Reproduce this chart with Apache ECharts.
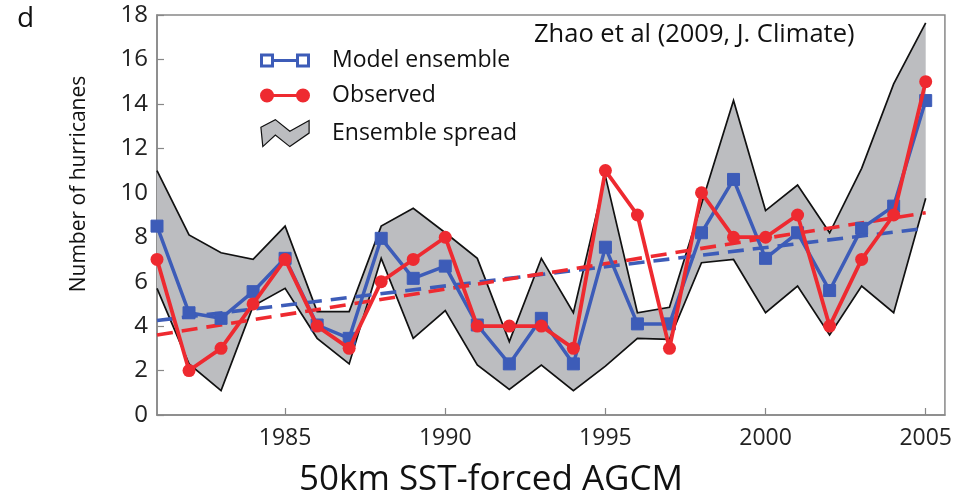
<!DOCTYPE html>
<html>
<head>
<meta charset="utf-8">
<script src="https://cdn.jsdelivr.net/npm/echarts@6/dist/echarts.min.js"></script>
<style>
html,body{margin:0;padding:0;background:#fff;}
#chart{width:955px;height:497px;}
</style>
</head>
<body>
<div id="chart"></div>
<script>
// ---- data ----
var years = [1981,1982,1983,1984,1985,1986,1987,1988,1989,1990,1991,1992,1993,1994,1995,1996,1997,1998,1999,2000,2001,2002,2003,2004,2005];
var modelEnsemble = [8.5,4.6,4.35,5.55,7.05,4.05,3.45,7.95,6.15,6.7,4.05,2.3,4.35,2.3,7.55,4.1,4.1,8.2,10.6,7.05,8.2,5.6,8.4,9.4,14.15];
var observed = [7,2,3,5,7,4,3,6,7,8,4,4,4,3,11,9,3,10,8,8,9,4,7,9,15];
var spreadUpper = [11,8.1,7.3,7.0,8.5,4.65,4.65,8.5,9.3,8.2,7.05,3.3,7.05,4.6,10.75,4.6,4.85,9.5,14.15,9.2,10.35,8.2,11.1,14.9,17.65];
var spreadLower = [5.7,2.3,1.1,4.9,5.7,3.45,2.3,7.05,3.45,4.7,2.25,1.15,2.25,1.1,2.2,3.45,3.4,6.85,7.0,4.6,5.8,3.6,5.8,4.6,9.75];
var trendYears = [1981, 2005];
var trendModel = [4.25, 8.4];
var trendObserved = [3.6, 9.1];
var xTickYears = [1985, 1990, 1995, 2000, 2005];

function pairs(xs, ys){ return xs.map(function(x,i){ return [x, ys[i]]; }); }
var spreadData = years.map(function(y,i){ return [y, spreadLower[i], spreadUpper[i]]; });

var BLUE = '#3d5cb8', RED = '#ee2a30', GRAY = '#bcbdc0';
var FONT = 'Open Sans';

var iconModel = 'path://M0 0H14V14H0Z M3 3V11H11V3Z M14 5.5H36V8.5H14Z M36 0H50V14H36Z M39 3V11H47V3Z';
var iconObs = 'path://M0 7A7 7 0 1 1 14 7A7 7 0 1 1 0 7Z M12 5.5H38V8.5H12Z M36 7A7 7 0 1 1 50 7A7 7 0 1 1 36 7Z';
var iconSpread = 'path://M0 9L15 1L30 13L50 2L50 15L30 29L15 17L2 29Z';

function renderBand(params, api){
  if (params.dataIndex !== 0) return;
  var top = [], bottom = [];
  for (var i = 0; i < spreadData.length; i++){
    top.push(api.coord([spreadData[i][0], spreadData[i][2]]));
    bottom.push(api.coord([spreadData[i][0], spreadData[i][1]]));
  }
  var poly = top.concat(bottom.slice().reverse());
  return {
    type:'group',
    children:[
      {type:'polygon', shape:{points:poly}, style:{fill:GRAY, stroke:'none'}},
      {type:'polyline', shape:{points:top}, style:{fill:'none', stroke:'#111', lineWidth:1.7}},
      {type:'polyline', shape:{points:bottom}, style:{fill:'none', stroke:'#111', lineWidth:1.7}}
    ]
  };
}

var chart = echarts.init(document.getElementById('chart'), null, {renderer:'canvas'});
chart.setOption({
  animation: false,
  backgroundColor: '#fff',
  title: [
    {text: 'd', left: 12, top: 0, textStyle:{fontFamily:FONT, fontSize:28, fontWeight:'normal', color:'#111'}},
    {text: 'Zhao et al (2009, J. Climate)', left: 529, top: 17, textStyle:{fontFamily:FONT, fontSize:25.5, fontWeight:'normal', color:'#111'}},
    {text: '50km SST-forced AGCM', left: 294, top: 458, textStyle:{fontFamily:FONT, fontSize:35, fontWeight:'normal', color:'#111'}}
  ],
  graphic: [
    {type:'text', x: 79, y: 184, rotation: Math.PI/2,
     style:{text:'Number of hurricanes', font: '21px "Open Sans"', fill:'#111', align:'center', verticalAlign:'middle'}}
  ],
  legend: {
    orient: 'vertical', left: 255, top: 44, itemWidth: 50, itemHeight: 27, itemGap: 12,
    selectedMode: false,
    textStyle: {fontFamily: FONT, fontSize: 23, color:'#111', padding:[0,0,0,17]},
    data: [
      {name:'Model ensemble', icon: iconModel, itemStyle:{color:BLUE, borderWidth:0}},
      {name:'Observed', icon: iconObs, itemStyle:{color:RED, borderWidth:0}},
      {name:'Ensemble spread', icon: iconSpread, itemStyle:{color:GRAY, borderColor:'#111', borderWidth:1.2}}
    ]
  },
  grid: {left: 157, right: 5, top: 15, bottom: 82, show: true, borderColor:'#888', borderWidth:1.5},
  xAxis: {
    type:'value', min:1981, max:2005.6,
    axisLine:{show:true, lineStyle:{color:'#888', width:1.5}},
    axisTick:{show:true, inside:true, length:7, customValues: xTickYears, lineStyle:{color:'#888', width:1.2}},
    axisLabel:{customValues: xTickYears, fontFamily:FONT, fontSize:23, color:'#222', margin:12, formatter:function(v){return String(v);}},
    splitLine:{show:false}
  },
  yAxis: {
    type:'value', min:0, max:18, interval:2,
    axisLine:{show:true, lineStyle:{color:'#888', width:1.5}},
    axisTick:{show:true, inside:true, length:7, lineStyle:{color:'#888', width:1.2}},
    axisLabel:{fontFamily:FONT, fontSize:24, color:'#222', margin:9},
    splitLine:{show:false}
  },
  series: [
    {name:'Ensemble spread', type:'custom', data: spreadData, encode:{x:0, y:[1,2]},
     renderItem: renderBand, itemStyle:{color:GRAY}, silent:true, z:1},
    {name:'trendModel', type:'line', data: pairs(trendYears, trendModel), symbol:'none',
     lineStyle:{color:BLUE, width:3.6, type:[16,9]}, z:3},
    {name:'trendObserved', type:'line', data: pairs(trendYears, trendObserved), symbol:'none',
     lineStyle:{color:RED, width:3.6, type:[16,9]}, z:3},
    {name:'Model ensemble', type:'line', data: pairs(years, modelEnsemble), symbol:'rect', symbolSize:12,
     lineStyle:{color:BLUE, width:3.5}, itemStyle:{color:BLUE, borderColor:BLUE, borderWidth:1}, z:4},
    {name:'Observed', type:'line', data: pairs(years, observed), symbol:'circle', symbolSize:13,
     lineStyle:{color:RED, width:3.8}, itemStyle:{color:RED}, z:5}
  ]
});
</script>
</body>
</html>
